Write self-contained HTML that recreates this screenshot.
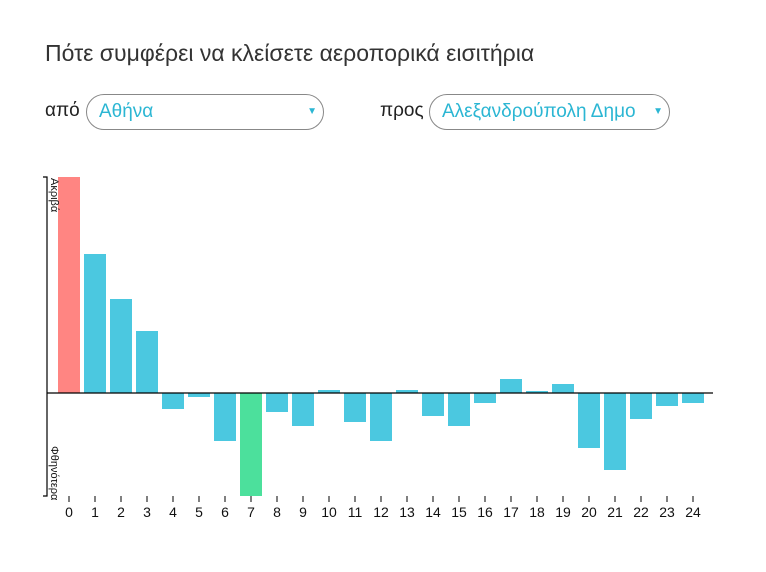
<!DOCTYPE html>
<html><head><meta charset="utf-8"><style>
body{margin:0;width:766px;height:572px;background:#fff;font-family:"Liberation Sans",sans-serif;position:relative;overflow:hidden}
h1{position:absolute;left:45px;top:40px;margin:0;font-size:23px;font-weight:normal;color:#333}
.lbl{position:absolute;top:100px;font-size:19px;color:#222}
.sel{position:absolute;top:94px;height:36px;border:1px solid #888;border-radius:18px;box-sizing:border-box;color:#2bb6d3;font-size:19px;line-height:34px;padding-left:12px;white-space:nowrap;overflow:hidden}
.sel span.arr{position:absolute;right:6px;top:0;font-size:10px;color:#2bb6d3}
</style></head><body>
<h1>Πότε συμφέρει να κλείσετε αεροπορικά εισιτήρια</h1>
<div class="lbl" style="left:45px">από</div>
<div class="sel" style="left:86px;width:238px">Αθήνα<span class="arr">▼</span></div>
<div class="lbl" style="left:380px">προς</div>
<div class="sel" style="left:429px;width:241px;padding-right:30px">Αλεξανδρούπολη Δημο<span class="arr" style="background:#fff;padding-left:4px">▼</span></div>
<svg id="chart" width="766" height="572" style="position:absolute;left:0;top:0"></svg>
<script>
const categories=[0,1,2,3,4,5,6,7,8,9,10,11,12,13,14,15,16,17,18,19,20,21,22,23,24];
const values=[216,139,94,62,-16,-4,-48,-103,-19,-33,3,-29,-48,3,-23,-33,-10,14,2,9,-55,-77,-26,-13,-10];
const yMax=216,yMin=-103;
const NS="http://www.w3.org/2000/svg";
const svg=document.getElementById('chart');
const top0=177,bot0=496;
function y(v){return top0+(yMax-v)/(yMax-yMin)*(bot0-top0);}
function xc(i){return 69+26*i;}
const maxV=Math.max(...values),minV=Math.min(...values);
function mk(t,a){const e=document.createElementNS(NS,t);for(const k in a)e.setAttribute(k,a[k]);svg.appendChild(e);return e;}
values.forEach((v,i)=>{
  const r=mk('rect',{x:xc(i)-11,width:22,y:Math.min(y(v),y(0)),height:Math.abs(y(v)-y(0)),fill:v===maxV?'#ff8582':(v===minV?'#4ce09c':'#4bc8e0')});
  
  
  const t=mk('text',{x:xc(i),y:517,'text-anchor':'middle','font-size':14,fill:'#111'});
  t.textContent=categories[i];
  
  
  mk('line',{x1:xc(i),x2:xc(i),y1:496,y2:502,stroke:'#000'});
});
const ax=mk('path',{d:'M43,177H47V496H43',fill:'none',stroke:'#000','stroke-width':1.2});


const zl=mk('line',{x1:47,x2:713,y1:y(0),y2:y(0),stroke:'#000','stroke-width':1.2});


const t1=mk('text',{transform:'translate(51,178) rotate(90)','font-size':11,fill:'#111'});
t1.textContent='Ακριβά';


const t2=mk('text',{transform:'translate(51,446) rotate(90)','font-size':11,fill:'#111'});
t2.textContent='Φθηνότερα';


</script>
</body></html>
